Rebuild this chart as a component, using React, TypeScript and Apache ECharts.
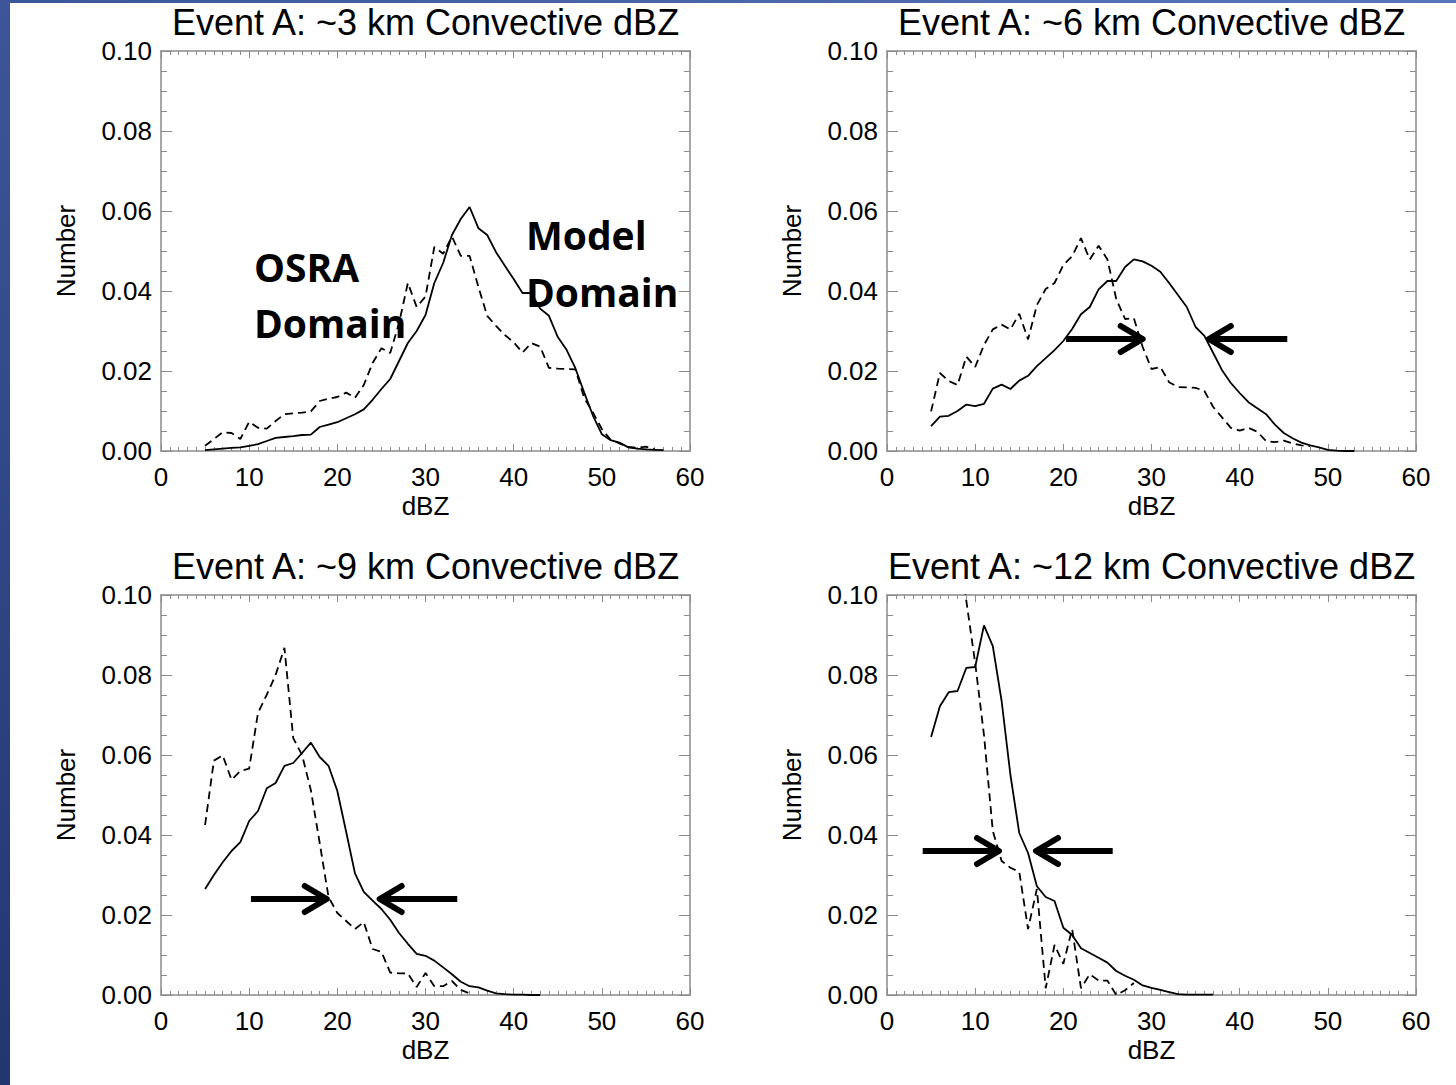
import React, { useEffect, useRef } from 'react';
import * as echarts from 'echarts';

// ---------------- data ----------------
const panelTitles = [
  'Event A: ~3 km Convective dBZ',
  'Event A: ~6 km Convective dBZ',
  'Event A: ~9 km Convective dBZ',
  'Event A: ~12 km Convective dBZ',
];
const xAxisName = 'dBZ';
const yAxisName = 'Number';
const startDbz = 5; // first dBZ bin of every curve, step 1 dBZ

// ~3 km
const solid3km = [0.0002, 0.0004, 0.0006, 0.0008, 0.0009, 0.0013, 0.0017, 0.0025, 0.0033, 0.0035, 0.0037, 0.004, 0.0041, 0.006, 0.0066, 0.0072, 0.0082, 0.0092, 0.0104, 0.0128, 0.0155, 0.018, 0.0225, 0.027, 0.03, 0.034, 0.042, 0.047, 0.054, 0.058, 0.061, 0.0557, 0.054, 0.0497, 0.0463, 0.043, 0.0395, 0.0395, 0.0356, 0.0338, 0.0285, 0.0253, 0.0207, 0.0146, 0.0088, 0.0042, 0.0027, 0.0021, 0.0009, 0.0006, 0.0004, 0.0003, 0.0002];
const dashed3km = [0.0013, 0.003, 0.0047, 0.0045, 0.003, 0.0073, 0.0058, 0.0056, 0.0075, 0.0092, 0.0094, 0.0096, 0.0099, 0.0125, 0.0131, 0.0135, 0.0146, 0.0133, 0.0165, 0.022, 0.0257, 0.0245, 0.032, 0.042, 0.036, 0.0386, 0.051, 0.0493, 0.0536, 0.0488, 0.0488, 0.041, 0.0338, 0.0313, 0.029, 0.0272, 0.0246, 0.027, 0.0261, 0.0208, 0.0206, 0.0205, 0.0204, 0.0133, 0.0096, 0.0055, 0.0028, 0.0019, 0.001, 0.0008, 0.0011, 0.0004];
// ~6 km
const solid6km = [0.0062, 0.0086, 0.0088, 0.01, 0.0116, 0.0112, 0.0118, 0.0156, 0.0166, 0.0155, 0.0176, 0.0188, 0.0212, 0.0232, 0.0252, 0.0275, 0.0305, 0.0342, 0.036, 0.0404, 0.0425, 0.0425, 0.046, 0.0479, 0.0474, 0.0463, 0.0448, 0.042, 0.039, 0.036, 0.031, 0.0288, 0.0245, 0.0202, 0.017, 0.0145, 0.0122, 0.0107, 0.0092, 0.0066, 0.0045, 0.0032, 0.0021, 0.0014, 0.0009, 0.0003, 0.0001, 0.0, 0.0];
const dashed6km = [0.0099, 0.0195, 0.0175, 0.0165, 0.0236, 0.021, 0.0265, 0.0304, 0.0316, 0.0304, 0.0343, 0.0279, 0.0365, 0.0405, 0.042, 0.0465, 0.0487, 0.0532, 0.0479, 0.0513, 0.0479, 0.038, 0.033, 0.0332, 0.026, 0.0205, 0.021, 0.0172, 0.016, 0.0159, 0.0158, 0.015, 0.011, 0.0084, 0.0058, 0.0051, 0.0058, 0.0048, 0.0025, 0.0022, 0.0026, 0.0019, 0.0014, 0.0012];
// ~9 km
const solid9km = [0.0265, 0.03, 0.0332, 0.036, 0.0382, 0.0435, 0.046, 0.0517, 0.053, 0.0573, 0.058, 0.0605, 0.0631, 0.0595, 0.0573, 0.051, 0.0408, 0.0304, 0.0258, 0.0236, 0.0215, 0.0188, 0.0155, 0.0128, 0.0103, 0.0098, 0.0086, 0.0069, 0.0052, 0.0033, 0.0022, 0.0019, 0.0011, 0.0004, 0.0002, 0.0001, 0.0001, 0.0, 0.0];
const dashed9km = [0.0425, 0.0586, 0.0599, 0.0538, 0.056, 0.0566, 0.0705, 0.0751, 0.08, 0.0868, 0.0642, 0.06, 0.0512, 0.038, 0.0245, 0.0205, 0.0185, 0.0165, 0.0182, 0.0115, 0.0108, 0.0056, 0.0054, 0.0054, 0.002, 0.0055, 0.0022, 0.0022, 0.0035, 0.0013, 0.0004];
// ~12 km
const solid12km = [0.0645, 0.0722, 0.0757, 0.076, 0.0818, 0.082, 0.0924, 0.0872, 0.0735, 0.055, 0.0405, 0.0355, 0.0272, 0.0245, 0.0235, 0.0168, 0.015, 0.0117, 0.0105, 0.0093, 0.0081, 0.006, 0.0048, 0.0038, 0.0024, 0.0018, 0.0013, 0.0007, 0.0002, 0.0001, 0.0001, 0.0001, 0.0001];
const dashed12km = [0.14, 0.13, 0.125, 0.115, 0.0985, 0.083, 0.065, 0.041, 0.0335, 0.0318, 0.0308, 0.0165, 0.0265, 0.0017, 0.0125, 0.0078, 0.0165, 0.0017, 0.0052, 0.0036, 0.0036, 0.0, 0.0012, 0.003];

const solidSeries = [solid3km, solid6km, solid9km, solid12km];
const dashedSeries = [dashed3km, dashed6km, dashed9km, dashed12km];

const xTickValues = [0, 10, 20, 30, 40, 50, 60];
const yTickValues = [0, 0.02, 0.04, 0.06, 0.08, 0.1];

// arrows: [panel, tailDbz, tipDbz, value]
const arrows: [number, number, number, number][] = [
  [1, 20.3, 29.0, 0.028],
  [1, 45.4, 36.5, 0.028],
  [2, 10.2, 18.8, 0.024],
  [2, 33.6, 24.8, 0.024],
  [3, 4.05, 12.7, 0.036],
  [3, 25.6, 16.9, 0.036],
];
const annotationTexts = ['OSRA', 'Domain', 'Model', 'Domain'];

// ---------------- layout ----------------
const W = 1456;
const H = 1085;
const gridRects = [
  { left: 161, top: 51, width: 529, height: 400 },
  { left: 887, top: 51, width: 529, height: 400 },
  { left: 161, top: 595, width: 529, height: 400 },
  { left: 887, top: 595, width: 529, height: 400 },
];
const FONT = '"Liberation Sans", Arial, Helvetica, sans-serif';
const AXIS_GREY = '#8a8a8a';

function toPairs(vals: number[]) {
  return vals.map((v, i) => [startDbz + i, v]);
}

function buildOption() {
  const grid = gridRects.map((g) => ({ ...g, containLabel: false }));
  const xAxis: any[] = [];
  const yAxis: any[] = [];
  const series: any[] = [];
  gridRects.forEach((_, i) => {
    const xBase = {
      type: 'value',
      gridIndex: i,
      min: xTickValues[0],
      max: xTickValues[xTickValues.length - 1],
      interval: xTickValues[1] - xTickValues[0],
      splitLine: { show: false },
      axisLine: { show: true, onZero: false, lineStyle: { color: AXIS_GREY, width: 1.5 } },
      axisTick: { show: true, inside: true, length: 7, lineStyle: { color: AXIS_GREY, width: 1 } },
      minorTick: { show: true, splitNumber: 10, length: 4, lineStyle: { color: AXIS_GREY, width: 1 } },
    };
    xAxis.push({
      ...xBase,
      position: 'bottom',
      axisLabel: { color: '#000', fontSize: 26, fontFamily: FONT, margin: 13 },
      name: xAxisName,
      nameLocation: 'middle',
      nameGap: 42,
      nameTextStyle: { color: '#000', fontSize: 26, fontFamily: FONT },
    });
    xAxis.push({ ...xBase, position: 'top', axisLabel: { show: false } });

    const yBase = {
      type: 'value',
      gridIndex: i,
      min: yTickValues[0],
      max: yTickValues[yTickValues.length - 1],
      interval: yTickValues[1] - yTickValues[0],
      splitLine: { show: false },
      axisLine: { show: true, onZero: false, lineStyle: { color: AXIS_GREY, width: 1.5 } },
      axisTick: { show: true, inside: true, length: 11, lineStyle: { color: AXIS_GREY, width: 1 } },
      minorTick: { show: true, splitNumber: 4, length: 6, lineStyle: { color: AXIS_GREY, width: 1 } },
    };
    yAxis.push({
      ...yBase,
      position: 'left',
      axisLabel: {
        color: '#000',
        fontSize: 26,
        fontFamily: FONT,
        margin: 9,
        formatter: (v: number) => v.toFixed(2),
      },
      name: yAxisName,
      nameLocation: 'middle',
      nameGap: 82,
      nameRotate: 90,
      nameTextStyle: { color: '#000', fontSize: 26, fontFamily: FONT },
    });
    yAxis.push({ ...yBase, position: 'right', axisLabel: { show: false } });

    series.push({
      type: 'line',
      xAxisIndex: 2 * i,
      yAxisIndex: 2 * i,
      data: toPairs(solidSeries[i]),
      symbol: 'none',
      showSymbol: false,
      clip: true,
      lineStyle: { color: '#000', width: 1.8 },
      z: 3,
    });
    series.push({
      type: 'line',
      xAxisIndex: 2 * i,
      yAxisIndex: 2 * i,
      data: toPairs(dashedSeries[i]),
      symbol: 'none',
      showSymbol: false,
      clip: true,
      lineStyle: { color: '#000', width: 1.8, type: [8, 5] },
      z: 3,
    });
  });

  return {
    animation: false,
    backgroundColor: '#ffffff',
    grid,
    xAxis,
    yAxis,
    series,
  };
}

function staticGraphics() {
  const els: any[] = [];
  els.push({
    type: 'rect',
    shape: { x: 0, y: 0, width: 10, height: H },
    style: {
      fill: new echarts.graphic.LinearGradient(0, 0, 0, 1, [
        { offset: 0, color: '#3d5699' },
        { offset: 1, color: '#22366f' },
      ]),
    },
    z: 10,
  });
  els.push({
    type: 'rect',
    shape: { x: 0, y: 0, width: W, height: 3 },
    style: {
      fill: new echarts.graphic.LinearGradient(0, 0, 1, 0, [
        { offset: 0, color: '#3d5699' },
        { offset: 1, color: '#5a75b8' },
      ]),
    },
    z: 10,
  });
  gridRects.forEach((g, i) => {
    els.push({
      type: 'text',
      x: g.left + g.width / 2,
      y: g.top - 29,
      style: {
        text: panelTitles[i],
        font: `36px ${FONT}`,
        fill: '#000',
        textAlign: 'center',
        textVerticalAlign: 'middle',
      },
      z: 10,
    });
  });
  const annPos = [
    [254, 266],
    [254, 322],
    [526, 234],
    [526, 291],
  ];
  annotationTexts.forEach((t, i) => {
    els.push({
      type: 'text',
      x: annPos[i][0],
      y: annPos[i][1],
      style: {
        text: t,
        font: `bold 39px "Open Sans", "Noto Sans", sans-serif`,
        fill: '#000',
        textAlign: 'left',
        textVerticalAlign: 'middle',
      },
      z: 10,
    });
  });
  return els;
}

function arrowGraphics(chart: echarts.ECharts) {
  const els: any[] = [];
  arrows.forEach(([panel, tail, tip, val]) => {
    const p0 = chart.convertToPixel({ gridIndex: panel }, [tail, val]) as number[];
    const p1 = chart.convertToPixel({ gridIndex: panel }, [tip, val]) as number[];
    const dir = p1[0] > p0[0] ? 1 : -1;
    els.push({
      type: 'line',
      shape: { x1: p0[0], y1: p0[1], x2: p1[0] - dir * 3, y2: p1[1] },
      style: { stroke: '#000', lineWidth: 6 },
      z: 20,
    });
    els.push({
      type: 'polyline',
      shape: {
        points: [
          [p1[0] - dir * 22, p1[1] - 13],
          [p1[0], p1[1]],
          [p1[0] - dir * 22, p1[1] + 13],
        ],
      },
      style: { stroke: '#000', lineWidth: 6, fill: 'none', lineCap: 'round', lineJoin: 'round' },
      z: 20,
    });
  });
  return els;
}

export default function App() {
  const ref = useRef<HTMLDivElement>(null);
  useEffect(() => {
    document.body.style.margin = '0';
    if (!ref.current) return;
    const chart = echarts.init(ref.current, undefined, { renderer: 'svg', width: W, height: H });
    chart.setOption(buildOption());
    chart.setOption({ graphic: [...staticGraphics(), ...arrowGraphics(chart)] });
    return () => {
      chart.dispose();
    };
  }, []);
  return <div ref={ref} style={{ width: W, height: H, background: '#fff' }} />;
}
